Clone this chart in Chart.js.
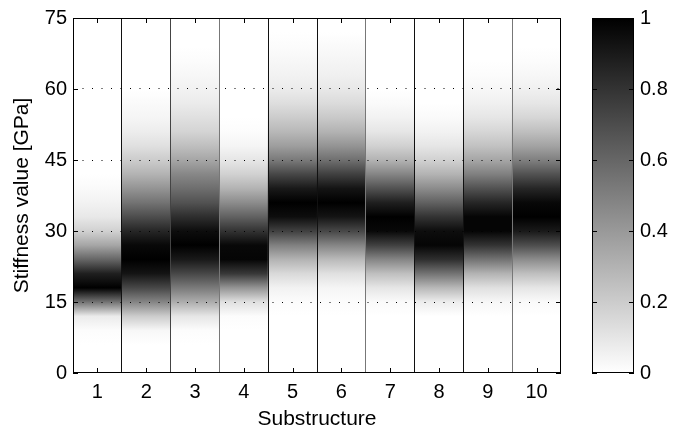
<!DOCTYPE html>
<html>
<head>
<meta charset="utf-8">
<script src="https://cdn.jsdelivr.net/npm/chart.js@4.4.0/dist/chart.umd.min.js"></script>
<style>
  html, body { margin: 0; padding: 0; background: #fff; }
  #wrap { position: relative; width: 674px; height: 437px; }
  #wrap canvas { position: absolute; left: 0; top: 0; }
</style>
</head>
<body>
<div id="wrap">
  <canvas id="main" width="674" height="437"></canvas>
  <canvas id="cbar" width="674" height="437"></canvas>
</div>
<script>
// substructure index on x, stiffness levels (GPa) sampled every 3 GPa on y
const substructures = ['1', '2', '3', '4', '5', '6', '7', '8', '9', '10'];
const stiffnessLevels = [0, 3, 6, 9, 12, 15, 18, 21, 24, 27, 30, 33, 36, 39, 42, 45, 48, 51, 54, 57, 60, 63, 66, 69, 72, 75];
const yTicks = [0, 15, 30, 45, 60, 75];
const colorbarTicks = [0, 0.2, 0.4, 0.6, 0.8, 1];

// normalised density, one value per stiffness level (bottom -> top)
const density1  = [0, 0, 0, 0.01, 0.08, 0.55, 1.0, 0.88, 0.6, 0.35, 0.18, 0.09, 0.05, 0.02, 0, 0, 0, 0, 0, 0, 0, 0, 0, 0, 0, 0];
const density2  = [0, 0, 0, 0.03, 0.2, 0.48, 0.72, 0.92, 1.0, 0.97, 0.85, 0.7, 0.55, 0.42, 0.3, 0.2, 0.12, 0.07, 0.04, 0.02, 0, 0, 0, 0, 0, 0];
const density3  = [0, 0, 0, 0.01, 0.1, 0.32, 0.52, 0.72, 0.9, 1.0, 0.95, 0.82, 0.68, 0.57, 0.47, 0.35, 0.25, 0.17, 0.12, 0.08, 0.05, 0.03, 0.01, 0, 0, 0];
const density4  = [0, 0, 0, 0, 0.01, 0.12, 0.42, 0.78, 0.98, 0.97, 0.8, 0.62, 0.45, 0.3, 0.18, 0.1, 0.04, 0.01, 0, 0, 0, 0, 0, 0, 0, 0];
const density5  = [0, 0, 0, 0, 0, 0.01, 0.05, 0.15, 0.3, 0.5, 0.75, 0.95, 1.0, 0.9, 0.72, 0.52, 0.38, 0.28, 0.2, 0.13, 0.08, 0.05, 0.03, 0.01, 0, 0];
const density6  = [0, 0, 0, 0, 0, 0.01, 0.04, 0.12, 0.27, 0.48, 0.72, 0.92, 1.0, 0.92, 0.75, 0.56, 0.42, 0.3, 0.21, 0.14, 0.09, 0.06, 0.04, 0.02, 0, 0];
const density7  = [0, 0, 0, 0, 0, 0.02, 0.1, 0.25, 0.48, 0.75, 0.97, 1.0, 0.88, 0.68, 0.48, 0.3, 0.18, 0.1, 0.05, 0.02, 0, 0, 0, 0, 0, 0];
const density8  = [0, 0, 0, 0, 0, 0.07, 0.28, 0.55, 0.82, 0.98, 0.95, 0.8, 0.62, 0.45, 0.3, 0.18, 0.1, 0.05, 0.02, 0, 0, 0, 0, 0, 0, 0];
const density9  = [0, 0, 0, 0, 0, 0.03, 0.12, 0.3, 0.55, 0.8, 0.98, 0.98, 0.85, 0.68, 0.5, 0.35, 0.24, 0.16, 0.1, 0.06, 0.03, 0.01, 0, 0, 0, 0];
const density10 = [0, 0, 0, 0, 0, 0.02, 0.1, 0.25, 0.45, 0.7, 0.9, 1.0, 0.97, 0.85, 0.68, 0.5, 0.36, 0.25, 0.16, 0.1, 0.06, 0.03, 0.01, 0, 0, 0];
const densities = [density1, density2, density3, density4, density5, density6, density7, density8, density9, density10];

const FONT = '"Liberation Sans", Arial, Helvetica, sans-serif';

// 1 -> black, 0 -> white (inverted gray colormap)
function shade(v) {
    const g = Math.round(255 * (1 - v));
    return `rgb(${g},${g},${g})`;
}

function verticalGradient(chart, levels, values) {
    const y = chart.scales.y;
    if (!chart.chartArea || !y) return '#fff';
    const lo = levels[0], hi = levels[levels.length - 1];
    const p0 = y.getPixelForValue(lo), p1 = y.getPixelForValue(hi);
    if (!isFinite(p0) || !isFinite(p1)) return '#fff';
    const grad = chart.ctx.createLinearGradient(0, p0, 0, p1);
    levels.forEach((lv, k) => grad.addColorStop((lv - lo) / (hi - lo), shade(values[k])));
    return grad;
}

// box around the plot and the small inward tick marks
const framePlugin = {
    id: 'frame',
    afterDraw(chart) {
        const { ctx, chartArea: a } = chart;
        const t = 5;
        ctx.save();
        ctx.strokeStyle = '#000';
        ctx.lineWidth = 1;
        ctx.strokeRect(a.left + 0.5, a.top + 0.5, a.width - 1, a.height - 1);
        ctx.beginPath();
        const x = chart.scales.x;
        if (x && x.options.display) {
            x.ticks.forEach((tk, i) => {
                const px = Math.round(x.getPixelForTick(i)) + 0.5;
                ctx.moveTo(px, a.bottom); ctx.lineTo(px, a.bottom - t);
                ctx.moveTo(px, a.top); ctx.lineTo(px, a.top + t);
            });
        }
        const y = chart.scales.y;
        y.ticks.forEach((tk, i) => {
            const py = Math.round(y.getPixelForTick(i)) + 0.5;
            ctx.moveTo(a.left, py); ctx.lineTo(a.left + t, py);
            ctx.moveTo(a.right, py); ctx.lineTo(a.right - t, py);
        });
        ctx.stroke();
        ctx.restore();
    }
};

const sepColors = ['#000', '#111', '#444', '#777', '#111', '#111', '#777', '#111', '#111', '#777', '#000'];

new Chart(document.getElementById('main'), {
    type: 'bar',
    data: {
        labels: substructures,
        datasets: [{
            data: substructures.map(() => [stiffnessLevels[0], stiffnessLevels[stiffnessLevels.length - 1]]),
            backgroundColor: (c) => {
                if (c.type !== 'data') return '#fff';
                return verticalGradient(c.chart, stiffnessLevels, densities[c.dataIndex]);
            },
            borderWidth: 0,
            barPercentage: 1,
            categoryPercentage: 1
        }]
    },
    options: {
        responsive: false,
        animation: false,
        layout: { padding: { left: 0, top: 16, right: 113, bottom: 0 } },
        plugins: {
            legend: { display: false },
            tooltip: { enabled: false }
        },
        scales: {
            x: {
                offset: true,
                border: { display: false },
                grid: {
                    z: 1,
                    offset: true,
                    drawTicks: false,
                    lineWidth: 1,
                    color: (c) => (c.index === undefined ? '#000' : sepColors[c.index])
                },
                ticks: { color: '#000', padding: 7, font: { family: FONT, size: 20 } },
                title: {
                    display: true,
                    text: 'Substructure',
                    color: '#000',
                    font: { family: FONT, size: 21 },
                    padding: { top: 0, bottom: 5 }
                },
                afterFit: (scale) => { scale.height = 64; }
            },
            y: {
                min: yTicks[0],
                max: yTicks[yTicks.length - 1],
                afterBuildTicks: (scale) => { scale.ticks = yTicks.map(v => ({ value: v })); },
                border: { display: false, dash: [1, 8.5] },
                grid: {
                    z: 1,
                    drawTicks: false,
                    lineWidth: 1,
                    color: (c) => (c.tick && (c.tick.value === yTicks[0] || c.tick.value === yTicks[yTicks.length - 1]) ? 'rgba(0,0,0,0)' : '#000')
                },
                ticks: { color: '#000', padding: 6, font: { family: FONT, size: 20 } },
                title: {
                    display: true,
                    text: 'Stiffness value [GPa]',
                    color: '#000',
                    font: { family: FONT, size: 21 },
                    padding: { top: 10, bottom: 0 }
                },
                afterFit: (scale) => { scale.width = 73; }
            }
        }
    },
    plugins: [framePlugin]
});

// colorbar
new Chart(document.getElementById('cbar'), {
    type: 'bar',
    data: {
        labels: [''],
        datasets: [{
            data: [[colorbarTicks[0], colorbarTicks[colorbarTicks.length - 1]]],
            backgroundColor: (c) => {
                if (c.type !== 'data') return '#fff';
                return verticalGradient(c.chart, colorbarTicks, colorbarTicks);
            },
            borderWidth: 0,
            barPercentage: 1,
            categoryPercentage: 1
        }]
    },
    options: {
        responsive: false,
        animation: false,
        layout: { padding: { left: 592, top: 16, right: 0, bottom: 64 } },
        plugins: {
            legend: { display: false },
            tooltip: { enabled: false }
        },
        scales: {
            x: { display: false },
            y: {
                position: 'right',
                min: 0,
                max: 1,
                afterBuildTicks: (scale) => { scale.ticks = colorbarTicks.map(v => ({ value: v })); },
                border: { display: false },
                grid: { display: false, drawTicks: false },
                ticks: {
                    color: '#000',
                    padding: 6,
                    font: { family: FONT, size: 20 },
                    callback: (v) => String(Math.round(v * 10) / 10)
                },
                afterFit: (scale) => { scale.width = 40; }
            }
        }
    },
    plugins: [framePlugin]
});
</script>
</body>
</html>
